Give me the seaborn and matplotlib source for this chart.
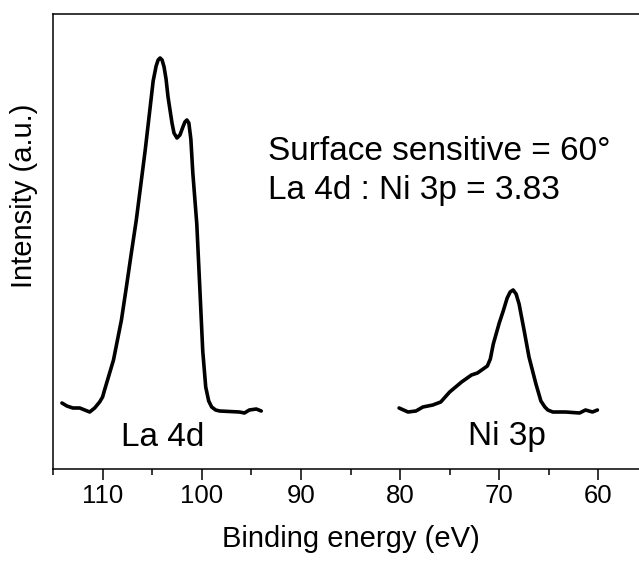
import numpy as np
import seaborn as sns
import matplotlib.pyplot as plt

# binding energy (eV) and intensity (a.u.)
la_energia = [114.1, 113.6, 113.0, 112.3, 111.8, 111.3, 110.8, 110.3, 110.0, 109.8,
              108.9, 108.1, 107.6, 107.1, 106.6, 105.7, 105.2, 104.9, 104.6, 104.4,
              104.2, 104.0, 103.8, 103.6, 103.4, 103.0, 102.8, 102.5, 102.2, 101.9,
              101.7, 101.5, 101.3, 101.1, 100.9, 100.5, 100.2, 99.9, 99.6, 99.3,
              99.0, 98.6, 98.2, 96.2, 95.7, 95.2, 94.5, 94.0]
la_intensidad = [66, 63, 61, 61, 59, 57, 61, 67, 72, 79,
                 109, 149, 182, 216, 249, 319, 362, 388, 403, 409,
                 411, 409, 402, 390, 372, 346, 336, 331, 334, 342,
                 347, 349, 346, 330, 296, 245, 182, 118, 82, 68,
                 62, 59, 58, 57, 56, 59, 60, 58]

ni_energia = [80.1, 79.2, 78.4, 77.7, 76.7, 75.9, 75.0, 73.8, 72.8, 72.2,
              71.2, 70.9, 70.6, 70.0, 69.6, 69.2, 68.9, 68.6, 68.3, 68.0,
              67.5, 67.0, 66.3, 65.8, 65.4, 65.1, 64.6, 63.3, 61.9, 61.3,
              60.6, 60.1]
ni_intensidad = [61, 57, 58, 62, 64, 67, 77, 87, 94, 96,
                 103, 110, 125, 146, 158, 171, 177, 179, 175, 165,
                 139, 112, 85, 68, 62, 59, 57, 57, 56, 59,
                 57, 59]

sns.set_style("ticks")
plt.rcParams['font.family'] = ['Liberation Sans', 'DejaVu Sans']
plt.rcParams['text.color'] = 'black'
plt.rcParams['axes.labelcolor'] = 'black'
plt.rcParams['xtick.color'] = 'black'
plt.rcParams['ytick.color'] = 'black'

fig = plt.figure(figsize=(6.39, 5.62), dpi=100)
ax = fig.add_axes([53 / 639, 93 / 562, 595 / 639, 455 / 562])

sns.lineplot(x=la_energia, y=la_intensidad, color="black", lw=2.6, ax=ax)
sns.lineplot(x=ni_energia, y=ni_intensidad, color="black", lw=2.6, ax=ax)

ax.set_xlim(115, 55)
ax.set_ylim(0, 455)
ax.set_xticks([110, 100, 90, 80, 70, 60])
ax.set_xticks(np.arange(115, 54, -5), minor=True)
ax.set_yticks([])
ax.tick_params(axis="x", which="major", direction="out", length=8, width=1.1,
               labelsize=18.5, pad=3)
ax.tick_params(axis="x", which="minor", direction="out", length=4, width=1.1)
for s in ax.spines.values():
    s.set_linewidth(1.1)
    s.set_color("black")

ax.set_xlabel("Binding energy (eV)", fontsize=21, labelpad=12)
ax.set_ylabel("Intensity (a.u.)", fontsize=21)
ax.yaxis.set_label_coords(-0.025, 0.60)

ax.text(93.35, 317, "Surface sensitive = 60°", fontsize=24, va="center", ha="left")
ax.text(93.35, 279, "La 4d : Ni 3p = 3.83", fontsize=24, va="center", ha="left")
ax.text(103.9, 32, "La 4d", fontsize=24, va="center", ha="center")
ax.text(69.2, 32, "Ni 3p", fontsize=24, va="center", ha="center")

plt.savefig("out.png", dpi=100)
